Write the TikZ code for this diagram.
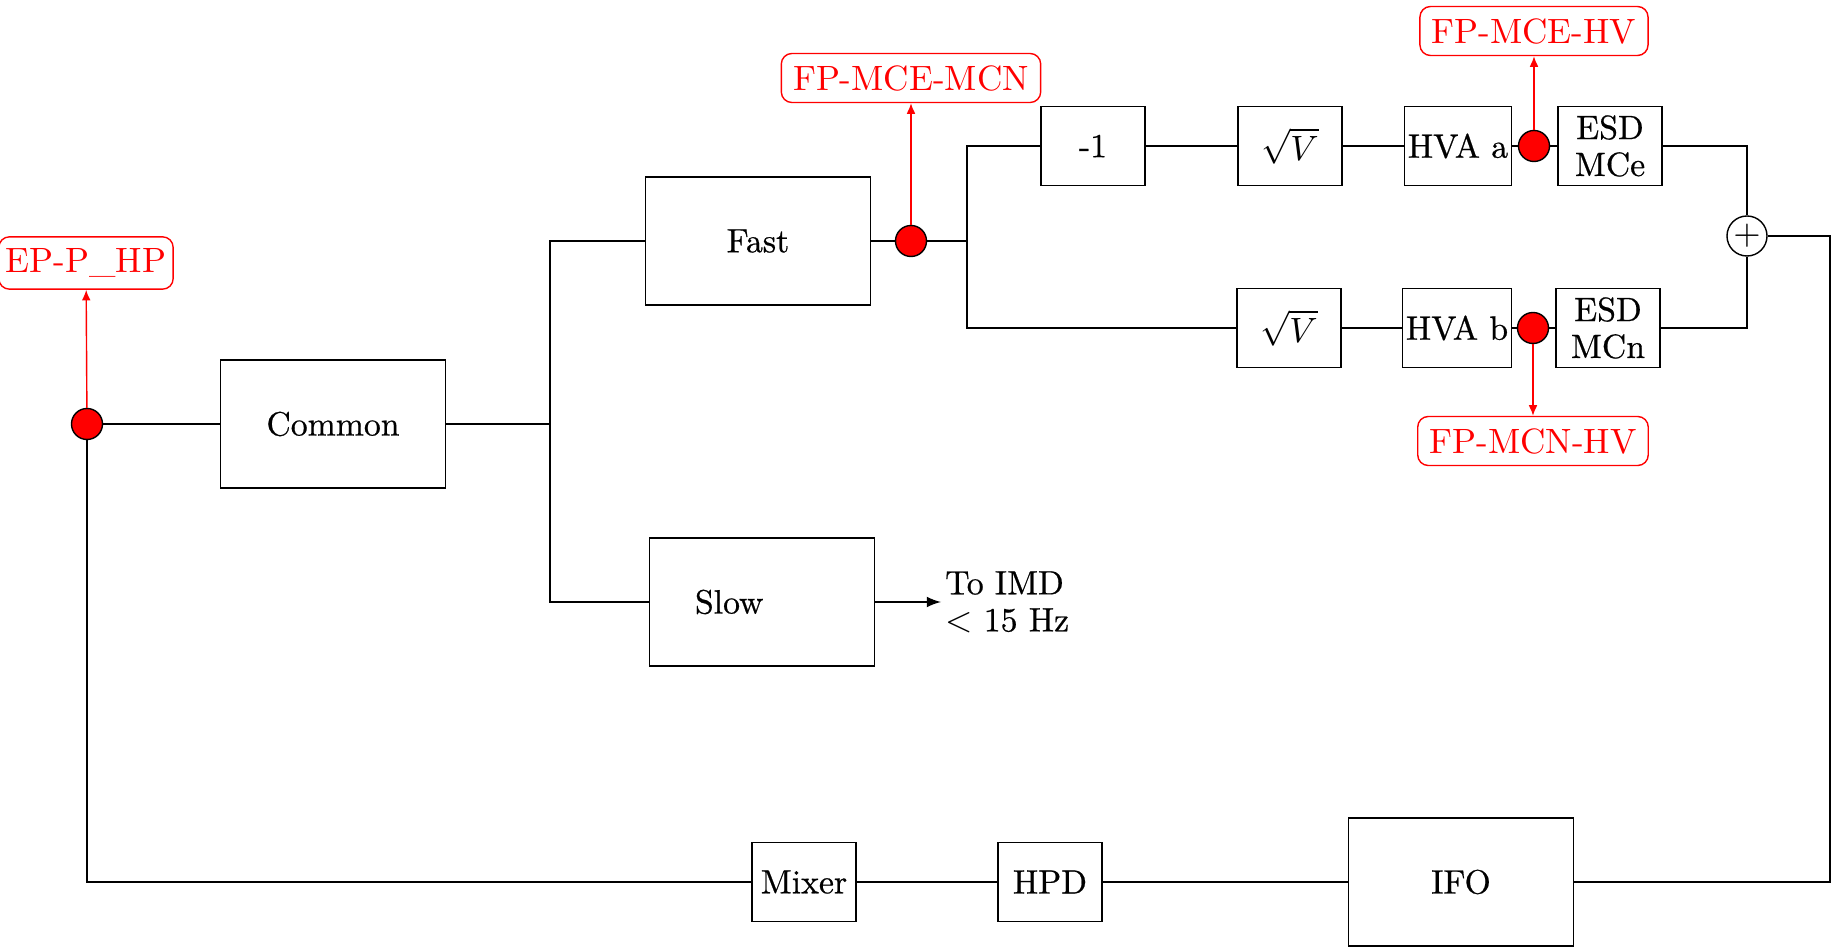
\documentclass[tikz,border=0pt]{standalone}
\usepackage{fontspec}
\usetikzlibrary{positioning,arrows.meta}

\newfontfamily\blockfont[FakeBold=0.6]{Latin Modern Roman}

\tikzstyle{block} = [draw, thin, font=\blockfont\fontsize{9.6}{10.5}\selectfont, align=center, inner sep=1pt]
\tikzstyle{bigblock} = [block, minimum width=2.25cm, minimum height=1.28cm]
\tikzstyle{smallblock} = [block, minimum width=1.04cm, minimum height=0.79cm]
\tikzstyle{tpoint} = [circle, draw=black, fill=red, minimum size=0.31cm, inner sep=0pt]
\tikzstyle{tplabel} = [draw=red, text=red, rounded corners=3pt, thin]
\tikzstyle{tparrow} = [red, thin, -{Latex[length=3pt,width=2.5pt]}]

\begin{document}
\begin{tikzpicture}[x=0.01cm, y=-0.01cm, thin]
\useasboundingbox (0,0) rectangle (1838,949);

% main chain
\node[tpoint] (ep) at (87,424) {};
\node[bigblock] (common) at (333,424) {Common};
\coordinate (split) at (550,424);
\node[bigblock] (fast) at (758,241) {Fast};
\node[bigblock, text width=1.34cm, align=left] (slow) at (762,602) {Slow};
\coordinate (imd) at (941,602);
\node[anchor=west, font=\blockfont\fontsize{9.6}{10.5}\selectfont, align=left, inner sep=1pt] (imdtext) at (imd) {To IMD\\$<$ 15 Hz};

% fast path
\node[tpoint] (tpfast) at (911,241) {};
\coordinate (split2) at (967,241);
\node[smallblock] (neg) at (1093,146) {-1};
\node[smallblock] (sqrta) at (1290,146) {$\sqrt{V}$};
\node[smallblock] (hvaa) at (1458,146) {HVA a};
\node[tpoint] (tpa) at (1534,146) {};
\node[smallblock] (esda) at (1610,146) {ESD\\MCe};
\node[smallblock] (sqrtb) at (1289,328) {$\sqrt{V}$};
\node[smallblock] (hvab) at (1457,328) {HVA b};
\node[tpoint] (tpb) at (1533,328) {};
\node[smallblock] (esdb) at (1608,328) {ESD\\MCn};
\node[circle, draw, minimum size=0.4cm, inner sep=0pt] (sum) at (1747,236) {$+$};
\coordinate (ret) at (1830,882);

% return path
\node[bigblock] (ifo) at (1461,882) {IFO};
\node[smallblock] (hpd) at (1050,882) {HPD};
\node[smallblock] (mixer) at (804,882) {Mixer};

% test point labels
\node[tplabel, inner xsep=2pt] (lblep) at (86,263) {EP-P\_HP};
\node[tplabel] (lblfast) at (911,78) {FP-MCE-MCN};
\node[tplabel] (lbla) at (1534,31) {FP-MCE-HV};
\node[tplabel] (lblb) at (1533,441) {FP-MCN-HV};

% connections
\draw (ep) -- (common);
\draw (common) -- (split);
\draw (split) |- (fast);
\draw (split) |- (slow);
\draw[-latex] (slow) -- (imd);
\draw (fast) -- (tpfast) -- (split2);
\draw (split2) |- (neg);
\draw (split2) |- (sqrtb);
\draw (neg) -- (sqrta) -- (hvaa) -- (tpa) -- (esda);
\draw (sqrtb) -- (hvab) -- (tpb) -- (esdb);
\draw (esda) -| (sum);
\draw (esdb) -| (sum);
\draw (sum) -| (ret) -- (ifo);
\draw (ifo) -- (hpd) -- (mixer);
\draw (mixer) -| (ep);

\draw[tparrow] (ep) -- (lblep);
\draw[tparrow] (tpfast) -- (lblfast);
\draw[tparrow] (tpa) -- (lbla);
\draw[tparrow] (tpb) -- (lblb);
\end{tikzpicture}
\end{document}
